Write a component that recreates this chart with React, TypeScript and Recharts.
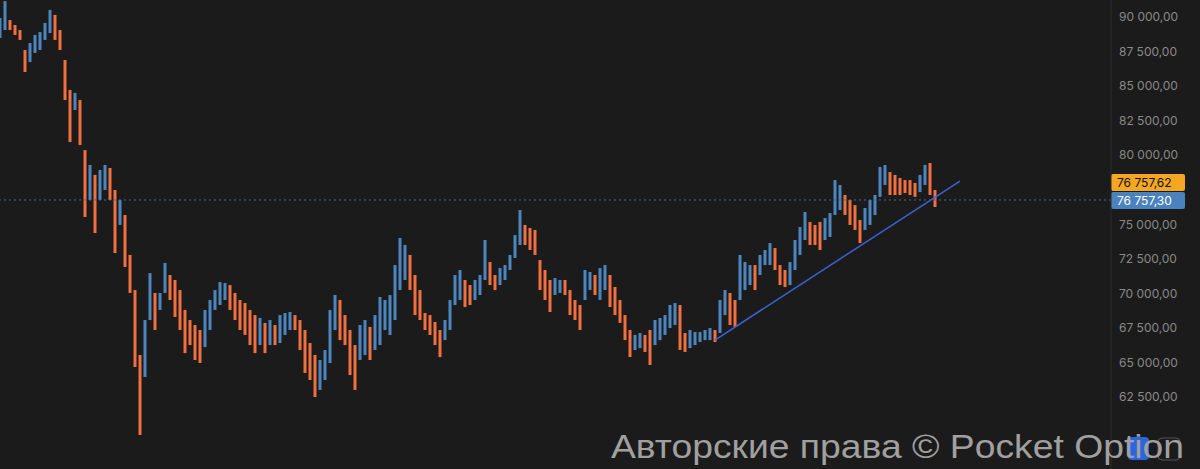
import React from "react";
import { Bar, Cell, ComposedChart, ReferenceLine, XAxis, YAxis } from "recharts";

// one sample every 5px of the original chart: high / low of that slice
const highs = [
  89930, 91150, 89780, 89420, 89060, 87610, 88120, 88700, 88910, 89570,
  90510, 90150, 89060, 86890, 84720, 84500, 83990, 80370, 79290, 78570,
  78930, 79290, 79070, 77480, 76760, 75670, 72780, 70240, 65540, 68070,
  71470, 70030, 70030, 72200, 71330, 70970, 70240, 68800, 68070, 67710,
  67350, 68800, 69520, 70240, 70820, 70750, 70600, 70030, 69520, 69300,
  68800, 68430, 68220, 67860, 68070, 67710, 68430, 68580, 68650, 68430,
  68070, 67350, 66410, 65540, 65180, 65900, 68800, 69880, 69520, 68430,
  67350, 66260, 67710, 68070, 67570, 68430, 69740, 69520, 69880, 72050,
  74010, 73500, 72780, 71330, 70240, 68580, 68430, 67930, 67350, 68070,
  69520, 71330, 71690, 70970, 70600, 70970, 71330, 73860, 72270, 71330,
  71830, 72050, 72780, 74220, 76030, 74950, 74730, 74590, 72410, 71690,
  70970, 71110, 70970, 70970, 70240, 69520, 69160, 71690, 71550, 71330,
  71830, 72050, 71330, 70460, 69520, 68430, 67350, 66990, 67130, 66990,
  67350, 68070, 68220, 68430, 69160, 69300, 69160, 67130, 67350, 67200,
  67200, 67350, 67490, 67350, 69520, 70240, 70030, 69520, 72780, 72270,
  72050, 72050, 72780, 73140, 73640, 73280, 72050, 71690, 72270, 73860,
  74800, 75890, 75170, 74950, 75170, 75450, 75810, 78200, 77840, 77120,
  76760, 76390, 75310, 76180, 76760, 77120, 79150, 79290, 78780, 78570,
  78350, 78200, 78200, 77990, 78570, 79290, 79430, 77480,
];

const lows = [
  88480, 89060, 89060, 88700, 88340, 86020, 86740, 87400, 87610, 88340,
  88840, 88340, 87610, 83990, 80950, 83270, 80740, 75530, 76760, 74370,
  76760, 77480, 76760, 72920, 74950, 71910, 70030, 64670, 59750, 63950,
  68070, 67350, 68800, 70030, 69520, 68290, 67350, 65680, 66260, 65180,
  64960, 66120, 67350, 68800, 69160, 69520, 68800, 68070, 67350, 66990,
  66260, 65680, 66260, 65680, 66260, 66260, 66410, 66990, 67350, 67350,
  65900, 64240, 63730, 62500, 63010, 63730, 64960, 67350, 66620, 66260,
  64090, 63010, 65180, 65540, 65180, 65900, 66260, 67350, 66990, 68070,
  70240, 70970, 70240, 68430, 68070, 67350, 66990, 66260, 65390, 66620,
  67350, 69160, 69520, 69010, 69160, 69520, 69880, 70970, 70600, 70240,
  70600, 70970, 71690, 72560, 73500, 73500, 73140, 72780, 70240, 69520,
  68650, 69880, 70030, 69880, 68430, 68070, 67350, 69520, 70240, 69880,
  69520, 70240, 69010, 68430, 67860, 66620, 65390, 65900, 66040, 65760,
  64820, 66260, 66620, 66990, 67490, 67710, 65900, 65760, 66040, 66260,
  66480, 66620, 66620, 66480, 67130, 68430, 67710, 67570, 69520, 70240,
  70600, 70240, 71330, 72050, 72050, 71690, 70600, 70460, 70600, 71690,
  72780, 73860, 73500, 73500, 73140, 73860, 74080, 75670, 76030, 75670,
  74950, 74590, 73640, 74590, 74950, 75670, 76980, 77840, 77120, 77120,
  77120, 77260, 77120, 76980, 77330, 77840, 77120, 76250,
];

const yTicks = [62500, 65000, 67500, 70000, 72500, 75000, 80000, 82500, 85000, 87500, 90000];
const lastPrice = 76757.3;
const askPrice = 76757.62;
const trendFrom = { t: 143, price: 66620 };
const trendTo = { t: 192, price: 78130 };

const BG = "#1b1b1b";
const ORANGE = "#f0703f";
const BLUE = "#4d86bf";

const fmt = (v: number) => {
  const [int, dec] = v.toFixed(2).split(".");
  return int.replace(/\B(?=(\d{3})+(?!\d))/g, " ") + "," + dec;
};

const candles = highs.map((h, i) => {
  const mid = (h + lows[i]) / 2;
  const prev = i > 0 ? (highs[i - 1] + lows[i - 1]) / 2 : mid;
  return { t: i, range: [lows[i], h], up: mid >= prev };
});

const PriceTags = (props: any) => {
  const vb = props.viewBox || {};
  const x = (vb.x || 0) + (vb.width || 0);
  const y = vb.y || 0;
  return (
    <g>
      <rect x={x} y={y - 26} width={74} height={17} rx={2} fill="#f5a623" />
      <text x={x + 6} y={y - 17} dominantBaseline="central" fontSize={12} fontFamily="Inter" fill="#111">
        {fmt(askPrice)}
      </text>
      <rect x={x} y={y - 8} width={74} height={17} rx={2} fill="#4a82bd" />
      <text x={x + 6} y={y + 1} dominantBaseline="central" fontSize={12} fontFamily="Inter" fill="#fff">
        {fmt(lastPrice)}
      </text>
    </g>
  );
};

export default function App() {
  return (
    <div style={{ position: "fixed", left: 0, top: 0, width: 1200, height: 469, background: BG, overflow: "hidden" }}>
      <ComposedChart width={1200} height={469} data={candles} margin={{ top: 0, right: 0, bottom: 0, left: 0 }}>
        <XAxis dataKey="t" type="number" domain={[0, 222.2]} hide allowDataOverflow />
        <YAxis
          orientation="right"
          width={89}
          domain={[57290, 91230]}
          allowDataOverflow
          ticks={yTicks}
          interval={0}
          tickFormatter={fmt}
          axisLine={{ stroke: "#2c2c2c" }}
          tickLine={false}
          tickSize={0}
          tickMargin={8}
          tick={{ fill: "#8a8a8a", fontSize: 12, fontFamily: "Inter" }}
        />
        <Bar dataKey="range" barSize={3} isAnimationActive={false}>
          {candles.map((c, i) => (
            <Cell key={i} fill={c.up ? BLUE : ORANGE} />
          ))}
        </Bar>
        <ReferenceLine y={lastPrice} stroke="#4d6b8c" strokeDasharray="2 3" label={PriceTags} />
        <ReferenceLine
          segment={[
            { x: trendFrom.t, y: trendFrom.price },
            { x: trendTo.t, y: trendTo.price },
          ]}
          stroke="#3a62d8"
          strokeWidth={1.5}
        />
      </ComposedChart>
      <svg width={1200} height={469} style={{ position: "absolute", left: 0, top: 0, pointerEvents: "none" }}>
        <rect x={1128} y={437} width={21} height={23} rx={4} fill="#2a66dd" />
        <rect x={1158} y={438} width={22} height={22} rx={4} fill="none" stroke="#555" />
        <text
          x={611}
          y={458}
          fontSize={34}
          fontFamily="Liberation Sans, Arial, sans-serif"
          fill="#a0a0a0"
          textLength={573}
          lengthAdjust="spacingAndGlyphs"
        >
          Авторские права © Pocket Option
        </text>
      </svg>
    </div>
  );
}
